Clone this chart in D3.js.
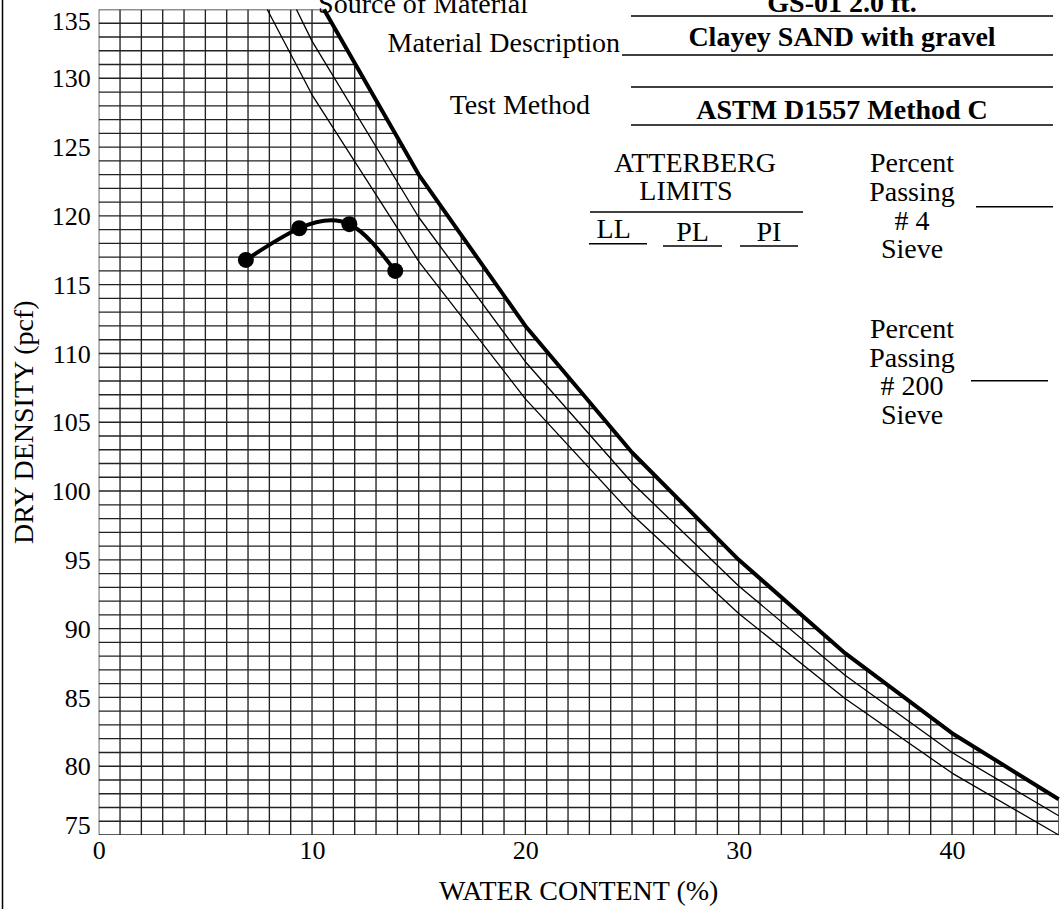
<!DOCTYPE html>
<html><head><meta charset="utf-8">
<script src="https://cdn.jsdelivr.net/npm/d3@7"></script>
<style>
html,body{margin:0;padding:0;background:#fff;}
svg{display:block;font-family:"Liberation Serif","Times New Roman",serif;}
</style></head>
<body>
<svg id="chart" width="1064" height="909"></svg>
<script>
// ---- data ----
const xTicks = [0, 10, 20, 30, 40];
const yTicks = [75, 80, 85, 90, 95, 100, 105, 110, 115, 120, 125, 130, 135];
const testWater = [6.9, 9.4, 11.75, 13.9];
const testDensity = [116.8, 119.1, 119.4, 116.0];
const zavWater28 = [10.56, 15, 20, 25, 30, 35, 40, 45];
const zavDensity28 = [135, 123.0, 112.0, 102.8, 95.0, 88.2, 82.4, 77.6];
const zavWater27 = [9.27, 10, 15, 20, 25, 30, 35, 40, 45];
const zavDensity27 = [135, 132.7, 119.9, 109.4, 100.6, 93.1, 86.6, 81.0, 76.4];
const zavWater26 = [7.9, 10, 15, 20, 25, 30, 35, 40, 45];
const zavDensity26 = [135, 128.8, 116.7, 106.7, 98.3, 91.1, 84.9, 79.5, 75.0];
const sourceOfMaterial = "GS-01  2.0 ft.";
const materialDescription = "Clayey SAND with gravel";
const testMethod = "ASTM D1557 Method C";

// ---- layout ----
const svg = d3.select("#chart");
const x = d3.scaleLinear().domain([0, 45]).range([98.7, 1058.7]);
const y = d3.scaleLinear().domain([75, 135]).range([835, 9.5]);

// frame line at left
svg.append("line").attr("x1", 2.5).attr("x2", 2.5).attr("y1", 0).attr("y2", 909)
  .attr("stroke", "#000").attr("stroke-width", 1.5);

// clip region: below the heaviest zero-air-voids line
const thick = zavWater28.map((w, i) => [w, zavDensity28[i]]);
const clipPts = [[0, 75], [0, 135]].concat(thick).concat([[45, 75]]);
svg.append("defs").append("clipPath").attr("id", "gridclip").append("polygon")
  .attr("points", clipPts.map(p => `${x(p[0])},${y(p[1])}`).join(" "));

// grid
const grid = svg.append("g").attr("clip-path", "url(#gridclip)")
  .attr("stroke", "#222").attr("stroke-width", 1.35);
grid.selectAll("line.v").data(d3.range(0, 46)).join("line").attr("class", "v")
  .attr("x1", d => x(d)).attr("x2", d => x(d)).attr("y1", y(75)).attr("y2", y(135));
grid.selectAll("line.h").data(d3.range(75, 136)).join("line").attr("class", "h")
  .attr("x1", x(0)).attr("x2", x(45)).attr("y1", d => y(d)).attr("y2", d => y(d));

// axes (labels only)
const yAxis = svg.append("g").attr("transform", `translate(${x(0)},0)`)
  .call(d3.axisLeft(y).tickValues(yTicks).tickSize(0).tickPadding(8));
yAxis.select(".domain").remove();
yAxis.selectAll("text").attr("font-size", 26).attr("font-family", "Liberation Serif").attr("fill", "#000")
  .attr("dy", d => d === 135 ? "0.76em" : (d === 75 ? "-0.05em" : "0.33em"));

const xAxis = svg.append("g").attr("transform", `translate(0,${y(75)})`)
  .call(d3.axisBottom(x).tickValues(xTicks).tickSize(0).tickPadding(6));
xAxis.select(".domain").remove();
xAxis.selectAll("text").attr("font-size", 26).attr("font-family", "Liberation Serif").attr("fill", "#000");

// axis titles
svg.append("text").attr("x", (x(0) + x(45)) / 2).attr("y", 900).attr("text-anchor", "middle")
  .attr("font-size", 28).text("WATER CONTENT (%)");
svg.append("text").attr("transform", `translate(33,${(y(75) + y(135)) / 2}) rotate(-90)`)
  .attr("text-anchor", "middle").attr("font-size", 28).text("DRY DENSITY (pcf)");

// zero air voids lines
const line = d3.line().x(d => x(d[0])).y(d => y(d[1]));
const zavs = [
  {w: zavWater26, d: zavDensity26, sw: 1.3},
  {w: zavWater27, d: zavDensity27, sw: 1.3},
  {w: zavWater28, d: zavDensity28, sw: 4}
];
zavs.forEach(z => {
  svg.append("path").datum(z.w.map((w, i) => [w, z.d[i]]))
    .attr("d", line).attr("fill", "none").attr("stroke", "#000").attr("stroke-width", z.sw)
    .attr("stroke-linejoin", "round");
});

// compaction curve
const pts = testWater.map((w, i) => [w, testDensity[i]]);
svg.append("path").datum(pts).attr("d", d3.line().x(d => x(d[0])).y(d => y(d[1])).curve(d3.curveNatural))
  .attr("fill", "none").attr("stroke", "#000").attr("stroke-width", 4);
svg.selectAll("circle.pt").data(pts).join("circle").attr("class", "pt")
  .attr("cx", d => x(d[0])).attr("cy", d => y(d[1])).attr("r", 8).attr("fill", "#000");

// header block
const hdr = svg.append("g").attr("font-size", 28).attr("fill", "#000");
const rule = (x1, x2, yy) => svg.append("line").attr("x1", x1).attr("x2", x2).attr("y1", yy).attr("y2", yy)
  .attr("stroke", "#000").attr("stroke-width", 1.6);
hdr.append("text").attr("x", 528).attr("y", 13).attr("text-anchor", "end").text("Source of Material");
hdr.append("text").attr("x", 842).attr("y", 12).attr("text-anchor", "middle").attr("font-weight", "bold").text(sourceOfMaterial);
rule(631, 1053, 16);
hdr.append("text").attr("x", 620).attr("y", 52).attr("text-anchor", "end").text("Material Description");
hdr.append("text").attr("x", 842).attr("y", 46).attr("text-anchor", "middle").attr("font-weight", "bold").text(materialDescription);
rule(622, 1053, 55);
rule(631, 1053, 87);
hdr.append("text").attr("x", 590).attr("y", 114).attr("text-anchor", "end").text("Test Method");
hdr.append("text").attr("x", 842).attr("y", 119).attr("text-anchor", "middle").attr("font-weight", "bold").text(testMethod);
rule(631, 1053, 125);

// Atterberg
hdr.append("text").attr("x", 695).attr("y", 171.7).attr("text-anchor", "middle").text("ATTERBERG");
hdr.append("text").attr("x", 686).attr("y", 200).attr("text-anchor", "middle").text("LIMITS");
rule(590, 803, 212);
hdr.append("text").attr("x", 613.7).attr("y", 238.3).attr("text-anchor", "middle").text("LL");
rule(589, 647, 243.7);
hdr.append("text").attr("x", 692.5).attr("y", 240.7).attr("text-anchor", "middle").text("PL");
rule(663, 722, 246);
hdr.append("text").attr("x", 769).attr("y", 240.7).attr("text-anchor", "middle").text("PI");
rule(740, 798, 246);

// sieves
const sieve1 = ["Percent", "Passing", "# 4", "Sieve"];
const sieve2 = ["Percent", "Passing", "# 200", "Sieve"];
sieve1.forEach((t, i) => hdr.append("text").attr("x", 912).attr("y", 172.3 + i * 28.7).attr("text-anchor", "middle").text(t));
sieve2.forEach((t, i) => hdr.append("text").attr("x", 912).attr("y", 338.3 + i * 28.4).attr("text-anchor", "middle").text(t));
rule(976, 1053, 206.7);
rule(971, 1048, 380.7);
</script>
</body></html>
